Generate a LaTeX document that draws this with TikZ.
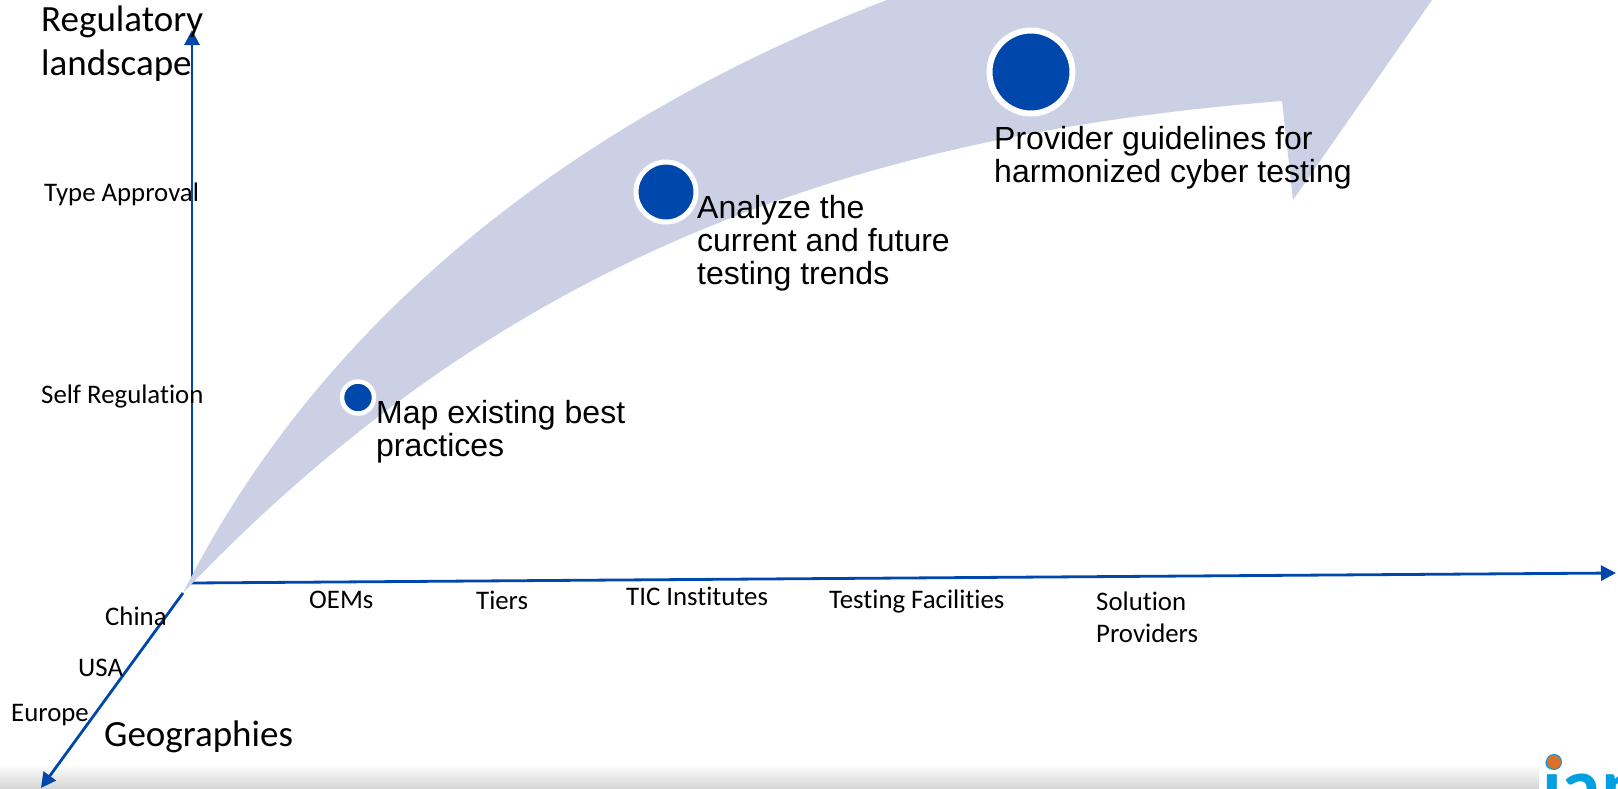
\documentclass[tikz,border=0pt]{standalone}
\usepackage{fontspec}
\setmainfont[Ligatures=NoCommon]{Carlito}
\newfontfamily\arialfont{Liberation Sans}
\usepackage{xcolor}
\usetikzlibrary{arrows.meta,positioning}
\definecolor{axisblue}{RGB}{0,71,171}
\definecolor{bandblue}{RGB}{203,208,228}
\definecolor{logoblue}{RGB}{0,160,227}
\definecolor{logoorange}{RGB}{222,112,44}
\definecolor{footgray}{RGB}{214,214,214}

\begin{document}
\begin{tikzpicture}[x=1pt,y=-1pt]

    \tikzstyle{axisline}=[draw=axisblue,line width=2.8pt,-{Triangle[length=15pt,width=15pt]}]
    \tikzstyle{axislabel}=[inner sep=0pt,anchor=north west,align=left,font=\fontsize{26.8}{32}\selectfont]
    \tikzstyle{axistitle}=[inner sep=0pt,anchor=north west,align=left,font=\fontsize{37}{44}\selectfont]
    \tikzstyle{steptext}=[inner sep=0pt,anchor=north west,align=left,font=\arialfont\fontsize{32}{33}\selectfont]
    \tikzstyle{stepdot}=[circle,fill=axisblue,draw=white,inner sep=0pt]

    \useasboundingbox (0,0) rectangle (1618,788);
    \clip (0,0) rectangle (1618,788);

    \shade[top color=white,bottom color=footgray] (0,764) rectangle (1539,788);

    \coordinate (Ov) at (192,584);
    \coordinate (Oh) at (191,583);
    \coordinate (Od) at (183,593);
    \coordinate (Vend) at (192,30);
    \coordinate (Hend) at (1616,573);
    \coordinate (Dend) at (41,788);

    \path[axisline] (Ov) -- (Vend);
    \path[axisline] (Oh) -- (Hend);
    \path[axisline] (Od) -- (Dend);

    \fill[bandblue] (183,593) .. controls (330,300) and (600,110) .. (887,0)
        -- (1432,0) -- (1293,200) -- (1282,101)
        .. controls (850,135) and (500,260) .. (183,593);

    \node[stepdot,line width=4.5pt,minimum size=32pt] (C1) at (358,397.5) {};
    \node[stepdot,line width=5pt,minimum size=60pt] (C2) at (666,192) {};
    \node[stepdot,line width=6pt,minimum size=83pt] (C3) at (1031,72) {};

    \node[steptext] (T1) at (376,400) {Map existing best\\practices};
    \node[steptext] (T2) at (697,195) {Analyze the\\current and future\\testing trends};
    \node[steptext] (T3) at (994,126) {Provider guidelines for\\harmonized cyber testing};

    \node[axistitle] (Reg) at (41,6) {Regulatory\\landscape};
    \node[axistitle] (Geo) at (104,721) {Geographies};

    \node[axislabel] (L1) at (44,183) {Type Approval};
    \node[axislabel] (L2) at (41,385) {Self Regulation};
    \node[axislabel] (X1) at (309,591) {OEMs};
    \node[axislabel] (X2) at (476,591) {Tiers};
    \node[axislabel] (X3) at (626,587) {TIC Institutes};
    \node[axislabel] (X4) at (829,590) {Testing Facilities};
    \node[axislabel] (X5) at (1096,592) {Solution\\Providers};
    \node[axislabel] (G1) at (105,607) {China};
    \node[axislabel] (G2) at (78,659) {USA};
    \node[axislabel] (G3) at (11,704) {Europe};

    \fill[white] (1539,747) rectangle (1618,788);
    \node[inner sep=0pt,anchor=base west,text=logoblue,font=\fontsize{80}{80}\bfseries\selectfont] (Logo) at (1542,813) {ian};
    \node[circle,fill=logoorange,draw=logoblue,line width=1pt,minimum size=15pt,inner sep=0pt] (Globe) at (1554,762) {};

\end{tikzpicture}
\end{document}
